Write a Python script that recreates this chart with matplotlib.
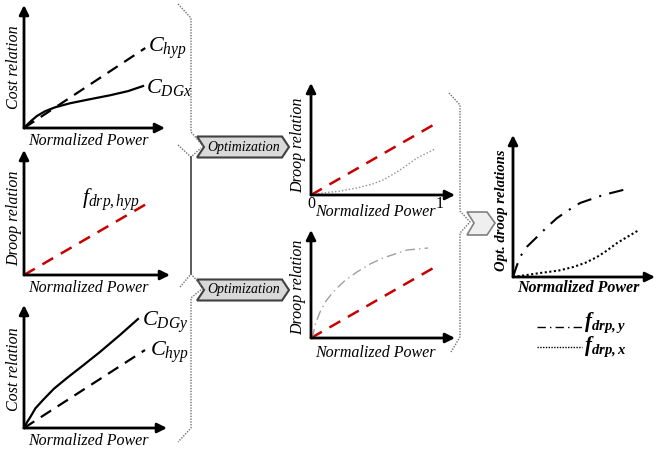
import matplotlib
matplotlib.use('Agg')
import matplotlib.pyplot as plt
from matplotlib.patches import Polygon

plt.rcParams['font.family'] = ['Liberation Serif', 'DejaVu Serif']
plt.rcParams['mathtext.fontset'] = 'custom'
plt.rcParams['mathtext.rm'] = 'Liberation Serif'
plt.rcParams['mathtext.it'] = 'Liberation Serif:italic'
plt.rcParams['mathtext.bf'] = 'Liberation Serif:italic:bold'

W, H = 656, 453

# ---- curve data (each panel in its own 0..1 units) ----
# top left: cost relations of DG x
c_hyp_x = [0, 0.86]
c_hyp_top = [0, 0.65]
c_dgx_x = [0, 0.025, 0.055, 0.092, 0.149, 0.220, 0.326, 0.468, 0.610, 0.738, 0.844]
c_dgx_y = [0, 0.030, 0.062, 0.098, 0.136, 0.168, 0.201, 0.234, 0.266, 0.300, 0.341]
# middle left: hypothetical droop
f_hyp_x = [0, 0.863]
f_hyp_y = [0, 0.585]
# bottom left: cost relations of DG y
c_dgy_x = [0, 0.020, 0.042, 0.080, 0.133, 0.210, 0.301, 0.420, 0.531, 0.671, 0.797]
c_dgy_y = [0, 0.045, 0.085, 0.160, 0.228, 0.320, 0.407, 0.515, 0.618, 0.756, 0.886]
c_hyp_bot_x = [0, 0.846]
c_hyp_bot_y = [0, 0.634]
# middle column, upper: optimised droop x
opt_hyp1_x = [0, 0.861]
opt_hyp1_y = [0, 0.634]
opt_x_x = [0, 0.083, 0.200, 0.319, 0.420, 0.5, 0.570, 0.639, 0.736, 0.861]
opt_x_y = [0, 0.018, 0.035, 0.063, 0.095, 0.134, 0.185, 0.241, 0.330, 0.411]
# middle column, lower: optimised droop y
opt_hyp2_x = [0, 0.861]
opt_hyp2_y = [0, 0.657]
opt_y_x = [0, 0.014, 0.030, 0.063, 0.100, 0.153, 0.230, 0.319, 0.410, 0.5, 0.667, 0.813]
opt_y_y = [0, 0.028, 0.130, 0.241, 0.335, 0.426, 0.525, 0.611, 0.685, 0.741, 0.815, 0.833]
# right: final optimal droop relations
fy_x = [0, 0.020, 0.049, 0.100, 0.169, 0.240, 0.310, 0.390, 0.472, 0.634, 0.803]
fy_y = [0, 0.060, 0.141, 0.215, 0.282, 0.352, 0.415, 0.470, 0.521, 0.577, 0.620]
fx_x = [0, 0.190, 0.320, 0.423, 0.510, 0.592, 0.660, 0.732, 0.887]
fx_y = [0, 0.028, 0.045, 0.070, 0.100, 0.141, 0.185, 0.239, 0.331]

fig = plt.figure(figsize=(W / 100, H / 100), dpi=100)
bg = fig.add_axes([0, 0, 1, 1])
bg.set_xlim(0, W)
bg.set_ylim(H, 0)
bg.axis('off')


def panel(ox, oy, tx, ty):
    # ox, oy: origin pixel ; tx: x arrow tip ; ty: y arrow tip
    a = fig.add_axes([ox / W, 1 - oy / H, (tx - ox) / W, (oy - ty) / H])
    a.set_xlim(0, 1)
    a.set_ylim(0, 1)
    a.axis('off')
    a.patch.set_alpha(0)
    for end in [(1, 0), (0, 1)]:
        a.annotate('', xy=end, xytext=(0, 0), xycoords='axes fraction',
                   arrowprops=dict(arrowstyle='-|>', lw=2, color='k',
                                   mutation_scale=14, shrinkA=0, shrinkB=0))
    return a


red = '#c80000'
ax1 = panel(24, 128, 165, 5)
ax1.plot(c_hyp_x, c_hyp_top, color='k', lw=1.6, ls=(0, (5.5, 3.5)), clip_on=False)
ax1.plot(c_dgx_x, c_dgx_y, color='k', lw=1.6, clip_on=False)

ax2 = panel(24, 275, 170, 150)
ax2.plot(f_hyp_x, f_hyp_y, color=red, lw=1.8, ls=(0, (5, 3.5)), clip_on=False)

ax3 = panel(24, 428, 167, 305)
ax3.plot(c_dgy_x, c_dgy_y, color='k', lw=1.6, clip_on=False)
ax3.plot(c_hyp_bot_x, c_hyp_bot_y, color='k', lw=1.6, ls=(0, (5.5, 3.5)), clip_on=False)

ax4 = panel(311, 195, 455, 83)
ax4.plot(opt_hyp1_x, opt_hyp1_y, color=red, lw=1.8, ls=(0, (5, 3.5)), clip_on=False)
ax4.plot(opt_x_x, opt_x_y, color='#909090', lw=1, ls=(0, (1, 1.5)), clip_on=False)

ax5 = panel(311, 338, 455, 230)
ax5.plot(opt_hyp2_x, opt_hyp2_y, color=red, lw=1.8, ls=(0, (5, 3.5)), clip_on=False)
ax5.plot(opt_y_x, opt_y_y, color='#a0a0a0', lw=1, ls=(0, (7, 3, 1, 3)), clip_on=False)

ax6 = panel(513, 277, 655, 135)
ax6.plot(fy_x, fy_y, color='k', lw=1.5, ls=(0, (7, 4, 1, 4)), clip_on=False)
ax6.plot(fx_x, fx_y, color='k', lw=1.5, ls=(0, (1, 1.2)), clip_on=False)

# ---- braces ----
dot = dict(color='#707070', lw=1, ls=(0, (1, 1)))
bg.plot([178, 191, 191, 203], [4, 18, 132, 146], **dot)
bg.plot([178, 191, 201], [145, 157, 148], **dot)
bg.plot([191, 191], [157, 274], color='#404040', lw=1.2)
bg.plot([180, 191, 201], [287, 274, 285], **dot)
bg.plot([203, 191, 191, 178], [288, 298, 428, 442], **dot)
bg.plot([449, 460, 460, 470, 460, 460, 451], [93, 105, 211, 222, 233, 337, 352], **dot)

# ---- chevrons ----
for yc in [147, 290]:
    bg.add_patch(Polygon([(197, yc - 10.5), (282, yc - 10.5), (289, yc), (282, yc + 10.5),
                          (197, yc + 10.5), (204, yc)], closed=True,
                         facecolor='#d9d9d9', edgecolor='#404040', lw=1.5))
    bg.text(244, yc, 'Optimization', style='italic', fontsize=10, ha='center', va='center')
bg.add_patch(Polygon([(467, 212), (487, 212), (495, 223), (487, 235), (467, 235), (474, 223)],
                     closed=True, facecolor='#efefef', edgecolor='#808080', lw=1.2))

# ---- text ----
it = dict(style='italic', fontsize=11.5, ha='center', va='center')
bg.text(14, 67, 'Cost relation', rotation=90, **it)
bg.text(88, 141, 'Normalized Power', **it)
bg.text(14, 218, 'Droop relation', rotation=90, **it)
bg.text(88, 288, 'Normalized Power', **it)
bg.text(14, 369, 'Cost relation', rotation=90, **it)
bg.text(88, 441, 'Normalized Power', **it)
bg.text(298, 145, 'Droop relation', rotation=90, **it)
bg.text(375, 212, 'Normalized Power', **it)
bg.text(298, 287, 'Droop relation', rotation=90, **it)
bg.text(375, 353, 'Normalized Power', **it)
bg.text(311, 204, '0', fontsize=11.5, ha='center', va='center')
bg.text(440, 204, '1', fontsize=11.5, ha='center', va='center')

bg.text(148, 48, r'$C_{hyp}$', fontsize=16, ha='left', va='center')
bg.text(146, 88, r'$C_{DGx}$', fontsize=16, ha='left', va='center')
bg.text(82, 200, r'$f_{drp,hyp}$', fontsize=16, ha='left', va='center')
bg.text(142, 322, r'$C_{DGy}$', fontsize=16, ha='left', va='center')
bg.text(150, 352, r'$C_{hyp}$', fontsize=16, ha='left', va='center')

bg.text(502, 210, 'Opt. droop relations', rotation=90, style='italic', weight='bold',
        fontsize=10.5, ha='center', va='center')
bg.text(578, 288, 'Normalized Power', style='italic', weight='bold',
        fontsize=11.5, ha='center', va='center')

# legend
bg.plot([537, 582], [327, 327], color='k', lw=1, ls=(0, (6, 3, 1, 3)))
bg.plot([537, 582], [347, 347], color='k', lw=1, ls=(0, (1, 1)))
bg.text(584, 323, r'$\mathbf{f_{drp,y}}$', fontsize=15, ha='left', va='center')
bg.text(584, 347, r'$\mathbf{f_{drp,x}}$', fontsize=15, ha='left', va='center')

fig.savefig('out.png', dpi=100)
